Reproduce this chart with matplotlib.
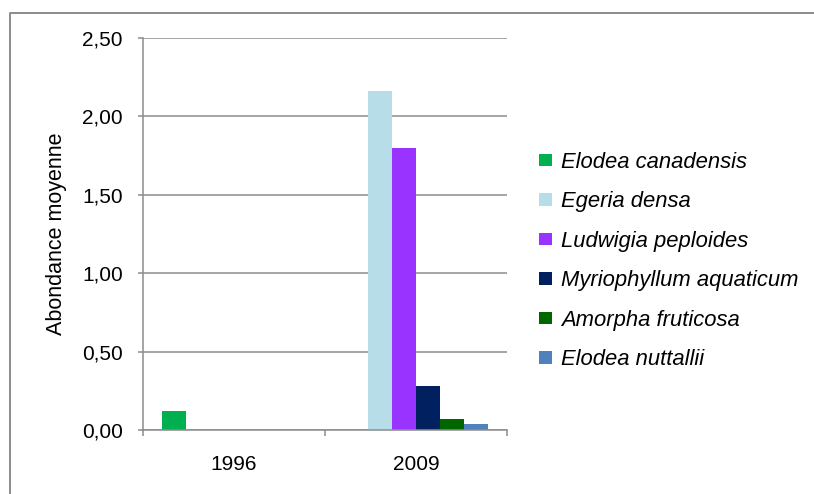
import matplotlib
matplotlib.use("Agg")
import matplotlib.pyplot as plt
from matplotlib.lines import Line2D
from matplotlib.ticker import FixedLocator, FuncFormatter
import numpy as np

plt.rcParams['font.family'] = ['Liberation Sans', 'DejaVu Sans']

years = ['1996', '2009']
species = ['Elodea canadensis', 'Egeria densa', 'Ludwigia peploides',
           'Myriophyllum aquaticum', 'Amorpha fruticosa', 'Elodea nuttallii']
v1996 = [0.12, 0, 0, 0, 0, 0]
v2009 = [0, 2.16, 1.80, 0.28, 0.07, 0.04]
colors = ['#00B050', '#B7DEE8', '#9933FF', '#002060', '#006600', '#4F81BD']

grey = '#8C8C8C'

fig = plt.figure(figsize=(8.14, 4.94), dpi=100)
ax = fig.add_axes([143/814, 1 - 430/494, 364/814, 392/494])

x = np.arange(len(years))
w = 24/182
for i, sp in enumerate(species):
    vals = [v1996[i], v2009[i]]
    ax.bar(x + (i - 2.5)*w, vals, width=w, color=colors[i], label=sp, zorder=3)

ax.set_xlim(-0.5, 1.5)
ax.set_ylim(0, 2.5)
ax.set_yticks(np.arange(0, 2.51, 0.5))
ax.yaxis.set_major_formatter(FuncFormatter(lambda v, p: f'{v:.2f}'.replace('.', ',')))
ax.set_xticks(x)
ax.set_xticklabels(years)
ax.xaxis.set_minor_locator(FixedLocator([-0.5, 0.5, 1.5]))
ax.tick_params(axis='x', which='major', length=0, pad=18, labelsize=15)
ax.tick_params(axis='x', which='minor', length=4.5, width=1.1, color=grey)
ax.tick_params(axis='y', length=3.6, width=1.1, color=grey, pad=11, labelsize=15)

ax.yaxis.grid(True, color=grey, linewidth=1.1, zorder=0)
ax.set_axisbelow(True)
for s in ['top', 'right']:
    ax.spines[s].set_visible(False)
for s in ['left', 'bottom']:
    ax.spines[s].set_color(grey)
    ax.spines[s].set_linewidth(1.1)
    ax.spines[s].set_zorder(4)

ax.set_ylabel('Abondance moyenne', fontsize=15.5, labelpad=11)

leg = fig.legend(loc='center left', bbox_to_anchor=(539/814, 1 - 261/494),
                 frameon=False, prop={'style': 'italic', 'size': 15.8},
                 handlelength=0.6, handleheight=0.5, handletextpad=0.42,
                 labelspacing=0.84, borderpad=0, borderaxespad=0)

# outer chart border
fig.add_artist(Line2D([9.5/814, 9.5/814, 1], [0, 1 - 13.5/494, 1 - 13.5/494],
                      transform=fig.transFigure, color=grey, linewidth=1.4))

fig.savefig('out.png', dpi=100)
